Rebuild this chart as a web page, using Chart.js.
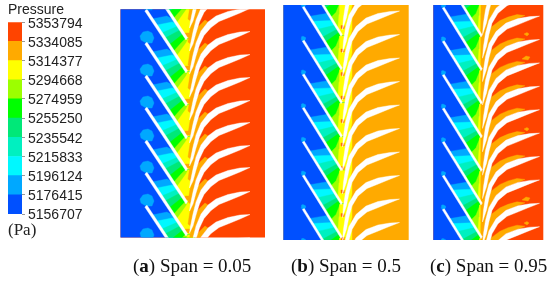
<!DOCTYPE html>
<html><head><meta charset="utf-8">
<style>
html,body{margin:0;padding:0;background:#fff;width:550px;height:281px;overflow:hidden}
canvas{position:absolute}
.panel{filter:blur(0.5px)}
</style>
<script src="https://cdn.jsdelivr.net/npm/chart.js@4"></script>
</head><body>
<canvas id="legend" style="left:0;top:0"></canvas>
<canvas id="pa" class="panel"></canvas>
<canvas id="pb" class="panel"></canvas>
<canvas id="pc" class="panel"></canvas>
<script>
// ---- colour scale
const pressureTicks=[5156707,5176415,5196124,5215833,5235542,5255250,5274959,5294668,5314377,5334085,5353794];
const C={blue:'#0050ff',sky:'#00a8ff',cyan:'#00f8ff',teal:'#00f0c0',mint:'#00e878',green:'#00ff00',lime:'#9cff00',yellow:'#ffff00',orange:'#ffaa00',red:'#ff4400'};
const pressureColors=[C.blue,C.sky,C.cyan,C.teal,C.mint,C.green,C.lime,C.yellow,C.orange,C.red];
const captions=[['a',' Span = 0.05',133],['b',' Span = 0.5',291],['c',' Span = 0.95',430]];
const unitLabel='(Pa)';
const bandOrder=[C.sky,C.cyan,C.teal,C.mint,C.green,C.lime,C.yellow];

// ---- panel (a): outlines, in picture units
const aBounds=[120.5,265,9.3,237.6];
const aStator=[144.8,11,147,9.3,187.5,70.5,186,73];
const aBubble=[146,43,141,40,140,36,143,32,148,31,152,33,154,38,152,43];
const aBands=[[152,19,167,16,174,20],[157,25,172,22,175,23],[161.7,33,178,26],[165,38,180,30],[169,45,183,34],[173,52,181,43,186,38],[176,57,181,50,186,43,188,39]];
const aTail=[186,39,194,39,194,72,186,72];
const aRotor=[250,31.5,240,32,228,34.5,216,39,208,45,201,54,196,66,193,78,190.5,90,189.5,97,193,90,196,79,199.5,68,204,58.5,211,50.5,219,44.5,229,40.5,240,36];
const aWedge=[205,43,198,50,192.5,62,189.5,78,188,88,190.5,90,193,78,196,66,201,54,208,45];
const aRotorShifts=[-69,-46,-23,0,23,46,69,91,114,136,160,183,206];
const aStatorShifts=[-66,-33,0,33,66,98,131,163,196,230];
const aDots=[185,33,190,33,190,37,185,37];

// ---- panel (b)
const bBounds=[283.3,408.7,5,240];
const bStator=[302.3,7.5,304.3,6.5,342.3,68,341,70];
const bBubble=[303,2.5,305,3.5,305.5,5.5,304,7.5,302,7,301,5,301.5,3];
const bBands=[[310,16.3,327.5,13.3],[313,21.3,331.5,20.5],[317.6,29.3,334.6,25.3],[322,37.3,337,29.3],[325,42.3,339,32.3],[330,52,336,46,340,36],[338,62,339,48,339.5,36]];
const bTail=[341,35.7,346.5,35.7,346.5,69,341,69];
const bRotor=[399.5,34.5,390,35,378,37,366,41.5,356,50,349,62,345.5,75,343.5,88,342.5,100,346.5,88,349,76,352,65,358,55,367,47.5,377,43.5,388,39];
const bYellow=[352,65,349,76,346.5,88,342.5,100,345,98,349.5,88,352,76];
const bRotorShifts=[-70.5,-47,-23.5,0,23.5,47,70.5,94,117.5,141,164.5,188,211.5];
const bStatorShifts=[-33.7,0,33.7,67.4,101,134.7,168.4,202.1,235.8];
const bRotorDot=[341,96,344,96,344,99,341,99];

// ---- panel (c)
const cBounds=[433.3,543.3,5,240];
const cStator=[442.3,8.2,444.3,7.2,482.3,68.7,481,70.7];
const cBubble=[443,3.2,445,4.2,445.5,6.2,444,8.2,442,7.7,441,5.7,441.5,3.7];
const cBands=[[450,17,467.5,14],[453,22,471.5,21.2],[457.6,30,474.6,26],[462,38,477,30],[465,43,479,33],[470,53,476,47,480,37],[478,63,479,49,479.5,37]];
const cTail=[481,36.4,481,36.4,481,70,481,70];
const cRotor=[539.5,39.5,530,40,518,42,506,46.5,496,55,489,67,485.5,80,483.5,93,482.5,105,486.5,93,489,81,492,70,498,60,507,52.5,517,48.5,528,44];
const cWedge=[481,105,481,60,492,50,500,44,508,40.5,517,38,525,39,518,42,506,46.5,496,55,489,67,485.5,80,483.5,93];
const cRotorShifts=[-70.2,-46.8,-23.4,0,23.4,46.8,70.2,93.6,117,140.4,163.8,187.2,210.6];
const cStatorShifts=[-33.6,0,33.6,67.2,100.8,134.4,168,201.6,235.2];
const cBlobs=[[524,34,527,32.5,529,34,527,36],[522,59,526,56,530,57,528,60],[524,129,527,127.5,529,129,527,131],[522,200,526,197,530,198,528,201],[524,223,527,221.5,529,223,527,225]];
const cRim=[481,0,491,0,491,250,481,250];

function pts(a,dy=0){const o=[];for(let i=0;i<a.length;i+=2)o.push({x:a[i],y:a[i+1]+dy});o.push(o[0]);return o;}
function poly(color,a,dy=0){return {color,pts:pts(a,dy)};}
function rect(color,b,x0,x1){return poly(color,[x0,b[2]-5,x1,b[2]-5,x1,b[3]+5,x0,b[3]+5]);}

function panelLayers(o){
  const L=[];
  L.push(rect(o.back,o.bounds,o.bounds[0]-5,o.bounds[1]+5));
  L.push(rect(C.blue,o.bounds,o.bounds[0]-5,o.xBlue));
  o.statorShifts.forEach(s=>L.push(poly(C.sky,o.bubble,s+(o.bubbleRef||0))));
  o.statorShifts.forEach(s=>{
    o.bands.forEach((edge,i)=>{L.push(poly(bandOrder[i],edge.concat(o.tail),s));});
  });
  (o.extra||[]).forEach(e=>L.push(e));
  (o.wedge?o.rotorShifts:[]).forEach(s=>L.push(poly(o.wedgeColor||C.orange,o.wedge,s)));
  (o.dot?o.rotorShifts:[]).forEach(s=>L.push(poly('#ff7000',o.dot,s)));
  o.rotorShifts.forEach(s=>L.push(poly('#ffffff',o.rotor,s)));
  o.statorShifts.forEach(s=>L.push(poly('#ffffff',o.stator,s)));
  return L;
}

function drawPanel(id,bounds,layers){
  const cv=document.getElementById(id);
  const w=bounds[1]-bounds[0],h=bounds[3]-bounds[2];
  const left=Math.floor(bounds[0]),top=Math.floor(bounds[2]);
  const W=Math.ceil(bounds[1])-left,H=Math.ceil(bounds[3])-top;
  cv.style.left=left+'px';cv.style.top=top+'px';
  cv.width=W;cv.height=H;
  new Chart(cv,{type:'scatter',
    data:{datasets:layers.map((l,i)=>({data:l.pts,showLine:true,fill:'shape',backgroundColor:l.color,borderColor:l.color,borderWidth:0.4,pointRadius:0,tension:0,clip:0,order:layers.length-i}))},
    options:{responsive:false,animation:false,events:[],
      layout:{padding:{left:bounds[0]-left,top:bounds[2]-top,right:W-(bounds[0]-left)-w,bottom:H-(bounds[2]-top)-h}},
      plugins:{legend:{display:false},tooltip:{enabled:false},title:{display:false}},
      scales:{x:{type:'linear',display:false,min:bounds[0],max:bounds[1]},y:{type:'linear',display:false,reverse:true,min:bounds[2],max:bounds[3]}}}});
}

drawPanel('pa',aBounds,panelLayers({bounds:aBounds,back:C.red,xBlue:187,stator:aStator,bubble:aBubble,bubbleRef:-33,bands:aBands,tail:aTail,rotor:aRotor,wedge:aWedge,rotorShifts:aRotorShifts,statorShifts:aStatorShifts,
  extra:aStatorShifts.map(s=>poly(C.orange,aDots,s))}));
drawPanel('pb',bBounds,panelLayers({bounds:bBounds,back:C.orange,xBlue:342,stator:bStator,bubble:bBubble,bands:bBands,tail:bTail,rotor:bRotor,dot:bRotorDot,wedge:bYellow,wedgeColor:C.yellow,rotorShifts:bRotorShifts,statorShifts:bStatorShifts}));
drawPanel('pc',cBounds,panelLayers({bounds:cBounds,back:C.red,xBlue:481,stator:cStator,bubble:cBubble,bands:cBands,tail:cTail,rotor:cRotor,wedge:cWedge,rotorShifts:cRotorShifts,statorShifts:cStatorShifts,
  extra:[poly(C.orange,cRim)].concat(cBlobs.map(b=>poly(C.orange,b)))}));

// ---- colour bar and captions
const captionPlugin={id:'captions',afterDraw(chart){
  const ctx=chart.ctx;ctx.save();ctx.fillStyle='#111';ctx.textBaseline='alphabetic';
  const size=19,base=272;
  captions.forEach(([k,rest,x0])=>{
    let x=x0;
    [['(',false],[k,true],[')'+rest,false]].forEach(([t,b])=>{
      ctx.font=(b?'bold ':'')+size+'px "Liberation Serif"';
      ctx.fillText(t,x,base);x+=ctx.measureText(t).width;
    });
  });
  ctx.fillStyle='#222';ctx.font='17px "Liberation Serif"';
  ctx.fillText(unitLabel,8,235);
  ctx.restore();
}};
const legendCv=document.getElementById('legend');legendCv.width=550;legendCv.height=281;
new Chart(legendCv,{type:'bar',plugins:[captionPlugin],
  data:{labels:['Pressure'],datasets:pressureColors.map((c,i)=>({data:[[pressureTicks[i],pressureTicks[i+1]]],backgroundColor:c,borderWidth:0,barPercentage:1,categoryPercentage:1,grouped:false}))},
  options:{responsive:false,animation:false,events:[],
    layout:{padding:{left:8,right:462,top:2,bottom:67}},
    plugins:{legend:{display:false},tooltip:{enabled:false},
      title:{display:true,text:'Pressure',align:'start',color:'#222',font:{family:'"Liberation Sans"',size:14,weight:'normal',lineHeight:1.2},padding:{top:0,bottom:3.4}}},
    scales:{
      x:{display:false},
      y:{position:'right',min:pressureTicks[0],max:pressureTicks[pressureTicks.length-1],
         afterBuildTicks(s){s.ticks=pressureTicks.map(v=>({value:v}));},
         afterFit(s){s.width=66;},
         grid:{drawOnChartArea:false,drawTicks:true,tickLength:3,color:'#999'},border:{display:false},
         ticks:{color:'#222',padding:3,labelOffset:1.5,autoSkip:false,maxRotation:0,font:{family:'"Liberation Sans"',size:14},callback:v=>String(v)}}
    }}});
</script>
</body></html>
